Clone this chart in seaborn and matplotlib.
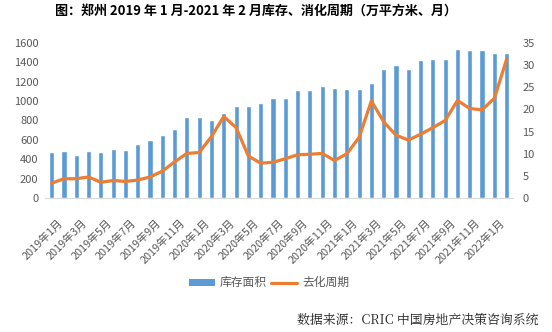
import matplotlib
matplotlib.use("Agg")
import matplotlib.pyplot as plt
from matplotlib.patches import Patch
from matplotlib.lines import Line2D
from matplotlib.transforms import ScaledTranslation
import seaborn as sns
import pandas as pd

# Monthly inventory (10k m²) and absorption period (months), Jan 2019 – Feb 2022
months = [f"{y}年{m}月" for y in (2019, 2020, 2021, 2022) for m in range(1, 13)][:38]
inventory = [476, 486, 445, 483, 480, 505, 495, 555, 596, 647, 716, 832, 832,
             805, 877, 946, 946, 977, 1028, 1034, 1113, 1110, 1154, 1134, 1120,
             1123, 1188, 1326, 1374, 1326, 1425, 1429, 1435, 1535, 1525, 1528,
             1491, 1494]
period = [3.4, 4.4, 4.4, 4.8, 3.6, 4.0, 3.8, 4.1, 4.8, 6.1, 8.2, 10.1, 10.3,
          13.9, 18.4, 15.9, 9.5, 7.9, 8.1, 8.9, 9.8, 9.9, 10.1, 8.5, 10.0,
          13.7, 21.9, 17.2, 14.2, 13.1, 14.4, 15.9, 17.5, 22.0, 20.2, 19.9,
          22.5, 31.3]
tick_labels = ["2019年1月", "2019年3月", "2019年5月", "2019年7月", "2019年9月",
               "2019年11月", "2020年1月", "2020年3月", "2020年5月", "2020年7月",
               "2020年9月", "2020年11月", "2021年1月", "2021年3月", "2021年5月",
               "2021年7月", "2021年9月", "2021年11月", "2022年1月"]

sns.set_theme(style="white")
plt.rcParams["font.family"] = ["Noto Sans CJK SC", "DejaVu Sans"]

BLUE = "#5B9BD5"
ORANGE = "#ED7D31"
GRAY = "#595959"

df = pd.DataFrame({"month": months, "inventory": inventory,
                   "period": period, "pos": range(len(months))})

fig = plt.figure(figsize=(5.52, 3.32), dpi=100)
ax = fig.add_axes([0.0824, 0.4027, 0.8466, 0.4687])

sns.barplot(data=df, x="month", y="inventory", color=BLUE, width=0.42,
            saturation=1, ax=ax)
ax.set_ylim(0, 1600)
ax.set_yticks(range(0, 1601, 200))
ax.set_xlim(-0.5, len(months) - 0.5)
ax.set_xlabel("")
ax.set_ylabel("")
ax.set_xticks(range(0, len(months), 2))
ax.set_xticklabels(tick_labels, rotation=45, ha="right", rotation_mode="anchor")
ax.tick_params(axis="x", length=0, pad=14, labelsize=7.8, labelcolor=GRAY)
ax.tick_params(axis="y", length=0, pad=5, labelsize=8, labelcolor=GRAY)
for s in ("top", "right", "left"):
    ax.spines[s].set_visible(False)
ax.spines["bottom"].set_color("#D9D9D9")
ax.spines["bottom"].set_linewidth(0.8)

# nudge the slanted month labels a little to the right of their bars
shift = ScaledTranslation(4 / 72, 0, fig.dpi_scale_trans)
for lab in ax.get_xticklabels():
    lab.set_transform(lab.get_transform() + shift)

ax2 = ax.twinx()
sns.lineplot(data=df, x="pos", y="period", color=ORANGE, linewidth=2.3,
             sort=False, ax=ax2)
ax2.set_ylim(0, 35)
ax2.set_yticks(range(0, 36, 5))
ax2.set_ylabel("")
ax2.set_xlabel("")
ax2.set_xlim(-0.5, len(months) - 0.5)
ax2.tick_params(axis="y", length=0, pad=7, labelsize=8, labelcolor=GRAY)
for s in ax2.spines.values():
    s.set_visible(False)

fig.text(0.464, 0.967, "图：郑州 2019 年 1 月-2021 年 2 月库存、消化周期（万平方米、月）",
         ha="center", va="center", fontsize=9.4, fontweight="heavy", color="black")

handles = [Patch(facecolor=BLUE, edgecolor="none"),
           Line2D([0], [0], color=ORANGE, linewidth=2.3)]
fig.legend(handles, ["库存面积", "去化周期"], loc="center",
           bbox_to_anchor=(0.487, 0.148), ncol=2, frameon=False, fontsize=8.5,
           labelcolor=GRAY, handlelength=2.2, handleheight=0.5,
           columnspacing=0.4, handletextpad=0.4)

fig.text(0.975, 0.036, "数据来源：CRIC 中国房地产决策咨询系统", ha="right", va="center",
         fontsize=9.3, color="#222222",
         family=["Noto Serif CJK SC", "Noto Sans CJK SC", "DejaVu Sans"])

fig.savefig("out.png", dpi=100)
